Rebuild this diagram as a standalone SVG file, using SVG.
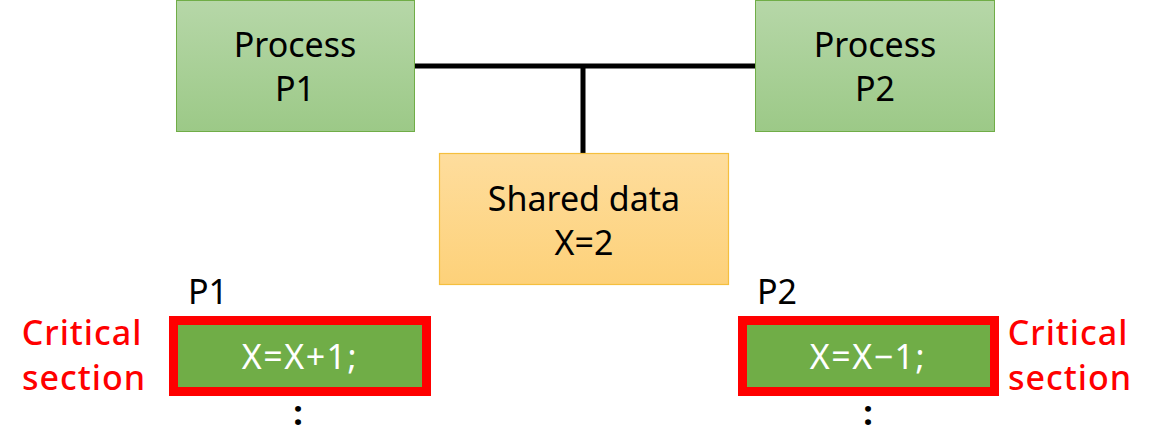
<svg xmlns="http://www.w3.org/2000/svg" width="1159" height="434" viewBox="0 0 1159 434">
<defs>
<linearGradient id="gG" x1="0" y1="0" x2="0" y2="1"><stop offset="0" stop-color="#b6d7a8"/><stop offset="1" stop-color="#9cc987"/></linearGradient>
<linearGradient id="gY" x1="0" y1="0" x2="0" y2="1"><stop offset="0" stop-color="#fedd9d"/><stop offset="1" stop-color="#fdd179"/></linearGradient>
<style>
text{font-family:"Noto Sans","Noto Sans CJK KR",sans-serif;font-size:34px;text-anchor:middle}
.proc{fill:url(#gG);stroke:#70ad47;stroke-width:1}
.shared{fill:url(#gY);stroke:#f5bf3e;stroke-width:1.2}
.cs{fill:#70ad47;stroke:#ff0000;stroke-width:9}
.red{fill:#ff0000;letter-spacing:1px;font-weight:500}
.wh{fill:#ffffff;letter-spacing:1.5px}
.dots{font-weight:bold}
.conn{stroke:#000;stroke-width:5;fill:none}
</style>
</defs>
<g id="connectors">
<path class="conn" d="M415 66H755M583 66V153"/>
</g>
<g id="processP1">
<rect class="proc" x="176.5" y="0.5" width="238" height="131"/>
<text x="295" y="57">Process</text>
<text x="295" y="101">P1</text>
</g>
<g id="processP2">
<rect class="proc" x="755.5" y="0.5" width="239" height="131"/>
<text x="875" y="57">Process</text>
<text x="875" y="101">P2</text>
</g>
<g id="sharedData">
<rect class="shared" x="439.5" y="153.5" width="289" height="131"/>
<text x="584" y="211">Shared data</text>
<text x="584" y="255">X=2</text>
</g>
<g id="csP1">
<text x="208" y="304">P1</text>
<rect class="cs" x="173.5" y="320.5" width="253" height="71"/>
<text class="wh" x="300" y="369">X=X+1;</text>
<text class="dots" x="298" y="425">:</text>
<text class="red" x="82" y="345">Critical</text>
<text class="red" x="84" y="390">section</text>
</g>
<g id="csP2">
<text x="777" y="304">P2</text>
<rect class="cs" x="742.5" y="320.5" width="252" height="71"/>
<text class="wh" x="868" y="369">X=X−1;</text>
<text class="dots" x="868" y="425">:</text>
<text class="red" x="1068" y="345">Critical</text>
<text class="red" x="1070" y="390">section</text>
</g>
</svg>
